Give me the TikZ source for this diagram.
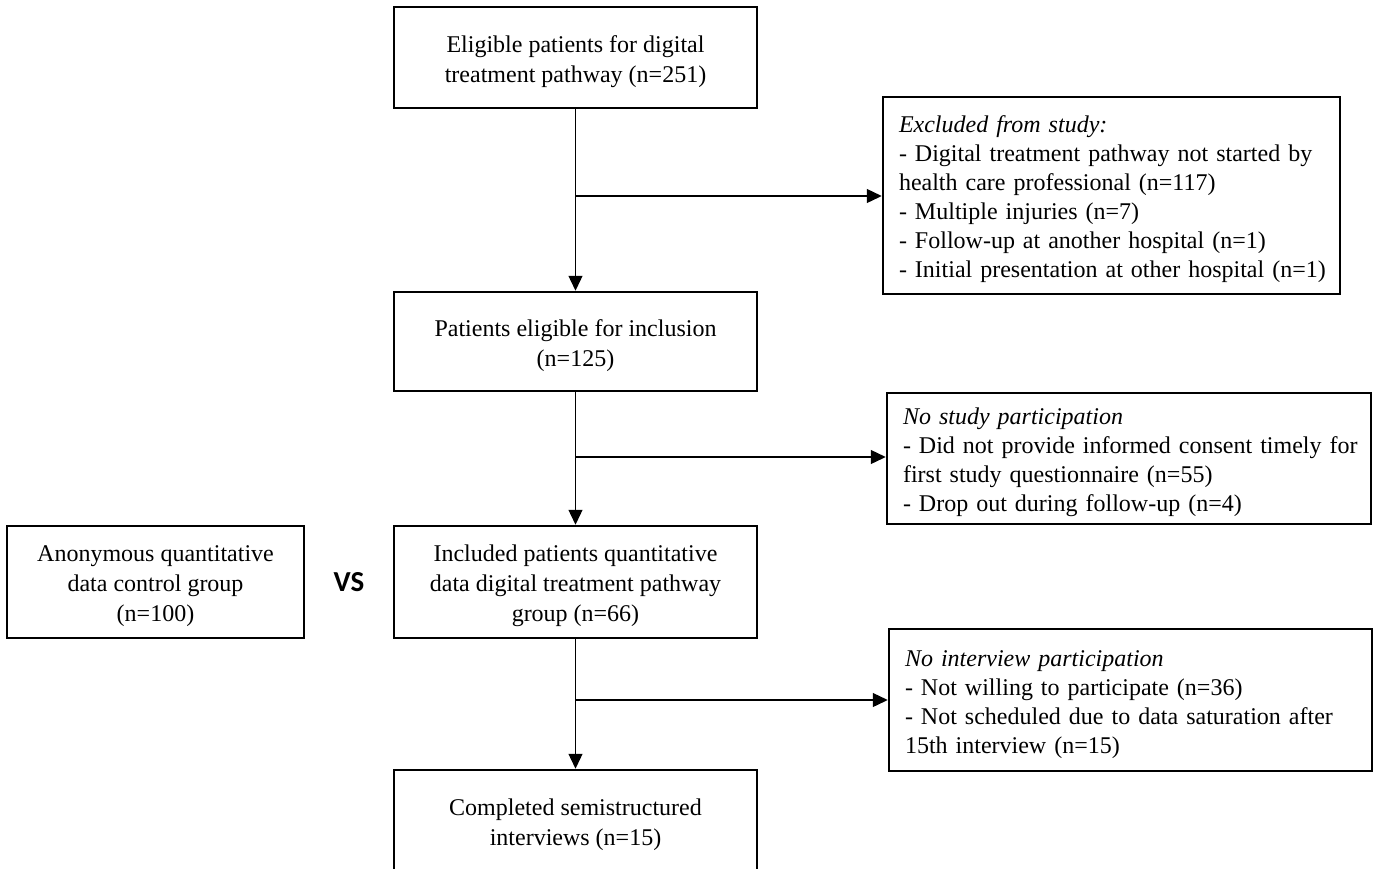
\documentclass[tikz,border=0pt]{standalone}
\usepackage{fontspec}
\setmainfont{Liberation Serif}
\newfontfamily\vsfont{Carlito}
\usetikzlibrary{arrows.meta}
\newcommand{\sline}[1]{\mbox{#1}}
\newcommand{\fstrut}{\rule{0pt}{24.5pt}}
\begin{document}
\begin{tikzpicture}[x=1pt,y=-1pt,
  mainbox/.style={draw, line width=2.5pt, align=center, font=\fontsize{24}{30}\selectfont, inner sep=0pt},
  sidebox/.style={draw, line width=2.5pt, align=left, font=\fontsize{24}{29}\selectfont, inner xsep=16pt, inner ysep=0pt},
  link/.style={line width=1.3pt, -{Triangle[length=15pt,width=14pt]}}]
\fill[white] (0,0) rectangle (1378,868);
\useasboundingbox (0,0) rectangle (1378,868);

\node[mainbox, minimum width=363pt, minimum height=101pt] (elig) at (575.5,57.5)
  {\fstrut Eligible patients for digital\\treatment pathway (n=251)};
\node[sidebox, text width=425pt, minimum height=197pt] (excl) at (1111.5,195.5)
  {\fstrut\sline{\textit{Excluded from study:}}\\\sline{- Digital treatment pathway not started by}\\\sline{health care professional (n=117)}\\\sline{- Multiple injuries (n=7)}\\\sline{- Follow-up at another hospital (n=1)}\\\sline{- Initial presentation at other hospital (n=1)}};
\node[mainbox, minimum width=363pt, minimum height=99pt] (incl) at (575.5,341.5)
  {\fstrut Patients eligible for inclusion\\(n=125)};
\node[sidebox, text width=452pt, minimum height=131pt] (nostudy) at (1129,458.5)
  {\fstrut\sline{\textit{No study participation}}\\\sline{- Did not provide informed consent timely for}\\\sline{first study questionnaire (n=55)}\\\sline{- Drop out during follow-up (n=4)}};
\node[mainbox, minimum width=363pt, minimum height=112pt] (quant) at (575.5,582)
  {\fstrut Included patients quantitative\\data digital treatment pathway\\group (n=66)};
\node[mainbox, minimum width=297pt, minimum height=112pt] (anon) at (155.5,582)
  {\fstrut Anonymous quantitative\\data control group\\(n=100)};
\node[font=\vsfont\bfseries\fontsize{29}{32}\selectfont, inner sep=0pt] (vs) at (349,582) {VS};
\node[sidebox, text width=451pt, minimum height=142pt] (noint) at (1130.5,700)
  {\fstrut\sline{\textit{No interview participation}}\\\sline{- Not willing to participate (n=36)}\\\sline{- Not scheduled due to data saturation after}\\\sline{15th interview (n=15)}};
\node[mainbox, minimum width=363pt, minimum height=102pt] (done) at (575.5,821)
  {\fstrut Completed semistructured\\interviews (n=15)};

\draw[link] (elig) -- (incl);
\draw[link] (incl) -- (quant);
\draw[link] (quant) -- (done);
\coordinate (j1) at (575.5,196);
\coordinate (j2) at (575.5,457);
\coordinate (j3) at (575.5,700);
\draw[link] (j1) -- (j1 -| excl.west);
\draw[link] (j2) -- (j2 -| nostudy.west);
\draw[link] (j3) -- (j3 -| noint.west);
\end{tikzpicture}
\end{document}
